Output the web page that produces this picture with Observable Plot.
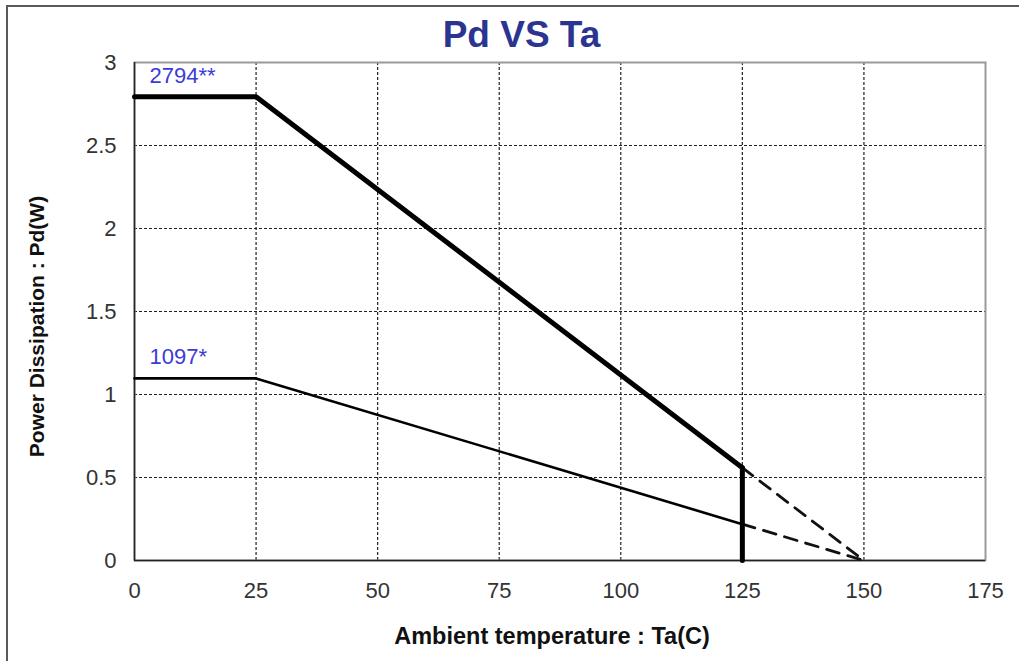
<!DOCTYPE html>
<html>
<head>
<meta charset="utf-8">
<script src="https://cdn.jsdelivr.net/npm/d3@7"></script>
<script src="https://cdn.jsdelivr.net/npm/@observablehq/plot@0.6"></script>
<style>
  html, body { margin: 0; padding: 0; background: #fff; }
  #wrap { position: relative; width: 1019px; height: 661px; overflow: hidden; font-family: "Liberation Sans", Arial, sans-serif; }
  #border { position: absolute; left: 6px; top: 5px; right: -4px; bottom: -4px; border-left: 2px solid #5a5a5a; border-top: 2px solid #5a5a5a; pointer-events: none; }
  #title { position: absolute; left: 0; width: 1043px; top: 15px; text-align: center; font-size: 37px; font-weight: bold; color: #2b3590; line-height: 40px; }
  #chart { position: absolute; left: 0; top: 0; }
</style>
</head>
<body>
<div id="wrap">
  <div id="chart"></div>
  <div id="border"></div>
  <div id="title">Pd VS Ta</div>
</div>
<script>
// Data
const temps = [0, 25, 125];            // Ta (C) break points
const pdHigh = [2.794, 2.794, 0.559];  // 2794** curve, W
const pdLow = [1.097, 1.097, 0.219];   // 1097* curve, W
const tjMax = 150;                     // extrapolated zero point
const seriesLabels = ["2794**", "1097*"];
const xTicks = [0, 25, 50, 75, 100, 125, 150, 175];
const yTicks = [0, 0.5, 1, 1.5, 2, 2.5, 3];

const high = temps.map((t, i) => ({t, pd: pdHigh[i]}));
const low = temps.map((t, i) => ({t, pd: pdLow[i]}));
const lastT = temps[temps.length - 1];
const highEnd = pdHigh[pdHigh.length - 1];
const lowEnd = pdLow[pdLow.length - 1];
const dashHigh = [{t: lastT, pd: highEnd}, {t: tjMax, pd: 0}];
const dashLow = [{t: lastT, pd: lowEnd}, {t: tjMax, pd: 0}];
const cutoff = [{t: lastT, pd: highEnd}, {t: lastT, pd: 0}];
const labels = [
  {t: temps[0], pd: pdHigh[0], text: seriesLabels[0]},
  {t: temps[0], pd: pdLow[0], text: seriesLabels[1]}
];

const font = "'Liberation Sans', Arial, sans-serif";

const chart = Plot.plot({
  width: 1019,
  height: 661,
  marginLeft: 134,
  marginRight: 34,
  marginTop: 62,
  marginBottom: 101,
  style: {fontFamily: font, background: "transparent"},
  x: {domain: [0, 175]},
  y: {domain: [0, 3]},
  marks: [
    Plot.gridX(xTicks.filter(d => d > 0 && d < 175), {stroke: "#222", strokeOpacity: 1, strokeWidth: 1.2, strokeDasharray: "3,2"}),
    Plot.gridY(yTicks.filter(d => d > 0 && d < 3), {stroke: "#222", strokeOpacity: 1, strokeWidth: 1.2, strokeDasharray: "3,2"}),
    Plot.frame({stroke: "#999", strokeWidth: 2}),
    Plot.ruleX([0], {stroke: "#222", strokeWidth: 1.5}),
    Plot.ruleY([0], {stroke: "#222", strokeWidth: 1.5}),
    Plot.axisX(xTicks, {tickSize: 0, tickPadding: 22, fontSize: 22, fill: "#333", label: null}),
    Plot.axisY(yTicks, {tickSize: 0, tickPadding: 18, fontSize: 22, fill: "#333", label: null, tickFormat: d => String(d)}),
    Plot.line(dashHigh, {x: "t", y: "pd", stroke: "#111", strokeWidth: 2.8, strokeDasharray: "13,9"}),
    Plot.line(dashLow, {x: "t", y: "pd", stroke: "#111", strokeWidth: 2.8, strokeDasharray: "13,9"}),
    Plot.line(low, {x: "t", y: "pd", stroke: "#000", strokeWidth: 2.6}),
    Plot.line(high, {x: "t", y: "pd", stroke: "#000", strokeWidth: 5}),
    Plot.line(cutoff, {x: "t", y: "pd", stroke: "#000", strokeWidth: 5}),
    Plot.text(labels, {x: "t", y: "pd", text: "text", textAnchor: "start", dx: 15, dy: -21, fontSize: 22, fill: "#3b3bd8"}),
    Plot.text(["Ambient temperature : Ta(C)"], {frameAnchor: "bottom", textAnchor: "middle", lineAnchor: "middle", dy: 76, dx: -8, text: d => d, fontSize: 23.5, fontWeight: "bold", fill: "#111"}),
    Plot.text(["Power Dissipation : Pd(W)"], {frameAnchor: "left", textAnchor: "middle", lineAnchor: "middle", dx: -97, dy: 15, rotate: -90, text: d => d, fontSize: 21, fontWeight: "bold", fill: "#111"})
  ]
});
document.getElementById("chart").appendChild(chart);
</script>
</body>
</html>
